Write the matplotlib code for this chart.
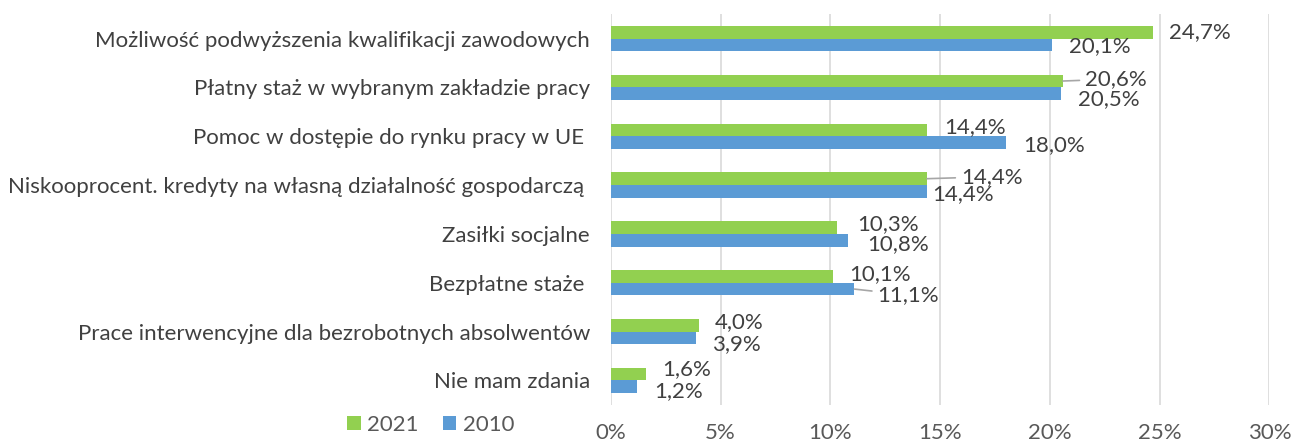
import matplotlib.pyplot as plt
import numpy as np

plt.rcParams['font.family'] = ['Lato', 'DejaVu Sans']

# Data
categories = ['Możliwość podwyższenia kwalifikacji zawodowych',
              'Płatny staż w wybranym zakładzie pracy',
              'Pomoc w dostępie do rynku pracy w UE ',
              'Niskooprocent. kredyty na własną działalność gospodarczą ',
              'Zasiłki socjalne',
              'Bezpłatne staże ',
              'Prace interwencyjne dla bezrobotnych absolwentów',
              'Nie mam zdania']
vals_2021 = [24.7, 20.6, 14.4, 14.4, 10.3, 10.1, 4.0, 1.6]
vals_2010 = [20.1, 20.5, 18.0, 14.4, 10.8, 11.1, 3.9, 1.2]
xticks = [0, 5, 10, 15, 20, 25, 30]

# label nudges (pixels, x right / y up) to mimic the Excel layout
off_2021 = [(16, 0), (22, 2), (17, 3), (34, 2), (20, 3), (17, 2), (16, 3), (16, 5)]
off_2010 = [(17, -1), (17, -5), (17, -3), (5, -3), (19, -4), (23, -6), (16, -6), (17, -4)]
leader_2021 = [False, True, False, True, False, False, False, False]
leader_2010 = [False, False, False, False, False, True, False, False]

green = '#92D050'
blue = '#5B9BD5'
txt = '#404040'
fs = 16

fig = plt.figure(figsize=(12.94, 4.41), dpi=100)
ax = fig.add_axes([0.472, 0.082, 0.509, 0.886])

y = np.arange(len(categories))
h = 0.26
ax.barh(y - h / 2, vals_2021, height=h, color=green, label='2021', zorder=3)
ax.barh(y + h / 2, vals_2010, height=h, color=blue, label='2010', zorder=3)


def fmt(v):
    return f'{v:.1f}%'.replace('.', ',')


for i in range(len(categories)):
    for vals, offs, lead, yy in [(vals_2021, off_2021, leader_2021, y[i] - h / 2),
                                 (vals_2010, off_2010, leader_2010, y[i] + h / 2)]:
        v = vals[i]
        ap = dict(arrowstyle='-', color='#A6A6A6', lw=1.2, shrinkA=2, shrinkB=0) if lead[i] else None
        ax.annotate(fmt(v), xy=(v, yy), xytext=offs[i], textcoords='offset pixels',
                    ha='left', va='center', fontsize=fs, color=txt,
                    arrowprops=ap, zorder=4)

ax.set_ylim(len(categories) - 0.5, -0.5)
ax.set_xlim(0, 30)
ax.set_xticks(xticks)
ax.set_xticklabels([f'{t}%' for t in xticks])
ax.set_yticks(y)
ax.set_yticklabels(categories)
ax.tick_params(axis='x', length=0, pad=13, labelsize=fs, colors='#595959')
ax.tick_params(axis='y', length=0, pad=15, labelsize=fs, colors=txt)
ax.grid(axis='x', color='#D9D9D9', lw=1.2, zorder=0)
for s in ax.spines.values():
    s.set_visible(False)

fig.legend(loc='center', bbox_to_anchor=(0.333, 0.036), ncol=2, frameon=False,
           fontsize=fs, labelcolor='#595959', handlelength=0.6, handleheight=0.6,
           handletextpad=0.3, columnspacing=1.1)

fig.savefig('out.png', dpi=100)
